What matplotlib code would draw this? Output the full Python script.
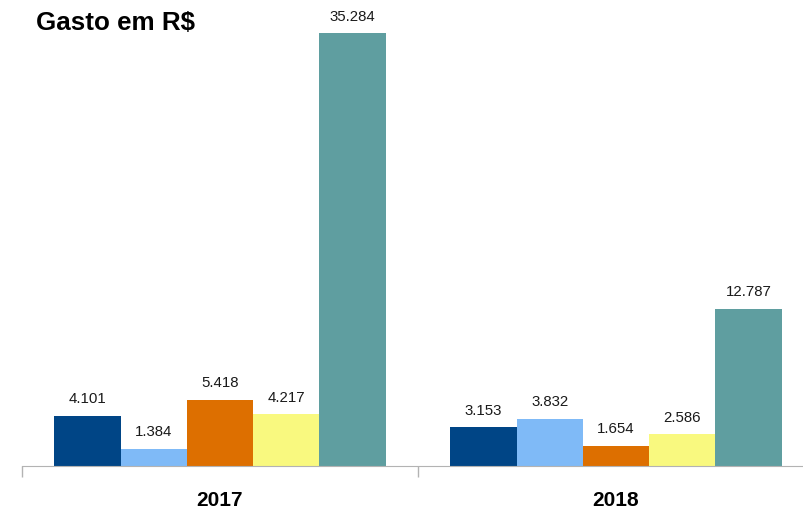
import numpy as np
import matplotlib.pyplot as plt

plt.rcParams['font.family'] = ['Liberation Sans', 'DejaVu Sans']

years = ["2017", "2018"]
series = ["s1", "s2", "s3", "s4", "s5"]
values = [
    [4101, 3153],
    [1384, 3832],
    [5418, 1654],
    [4217, 2586],
    [35284, 12787],
]
labels = [
    ["4.101", "3.153"],
    ["1.384", "3.832"],
    ["5.418", "1.654"],
    ["4.217", "2.586"],
    ["35.284", "12.787"],
]
colors = ["#004586", "#7fbaf7", "#dd6f00", "#f9f97f", "#5f9ea0"]

fig = plt.figure(figsize=(8.04, 5.09), dpi=100)
# axes runs slightly past the right edge, like the original
ax = fig.add_axes([22 / 804, 43 / 509, 792 / 804, 466 / 509])

x = np.arange(len(years))
width = 0.836 / len(series)
for i, (vals, labs, c) in enumerate(zip(values, labels, colors)):
    pos = x - 0.418 + width * (i + 0.5)
    ax.bar(pos, vals, width=width, color=c, linewidth=0)
    for p, v, lab in zip(pos, vals, labs):
        ax.annotate(lab, (p, v), xytext=(0, 7), textcoords="offset points",
                    ha="center", va="bottom", fontsize=10.8, color="#1a1a1a")

ax.set_xlim(-0.5, 1.5)
ax.set_ylim(0, 38000)
for s in ["top", "right", "left"]:
    ax.spines[s].set_visible(False)
ax.spines["bottom"].set_color("#b3b3b3")
ax.set_yticks([])
ax.set_xticks([-0.5, 0.5, 1.5])
ax.set_xticklabels([])
ax.tick_params(axis="x", length=8, color="#b3b3b3", width=1)
ax.set_xticks(x, minor=True)
ax.set_xticklabels(years, minor=True, fontsize=15, fontweight="bold")
ax.tick_params(axis="x", which="minor", length=0, pad=18)

fig.text(36 / 804, 1 - 23 / 509, "Gasto em R$", fontsize=18.7, fontweight="bold",
         va="center", ha="left")

fig.savefig("out.png", dpi=100)
